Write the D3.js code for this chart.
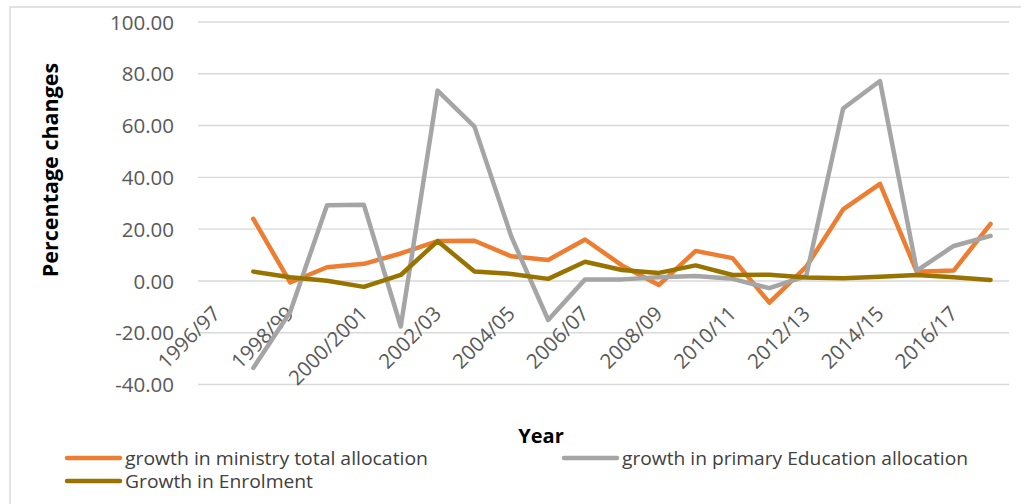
<!DOCTYPE html>
<html>
<head>
<meta charset="utf-8">
<script src="https://cdn.jsdelivr.net/npm/d3@7"></script>
<style>
  html, body { margin: 0; padding: 0; background: #fff; }
  svg { display: block; }
</style>
</head>
<body>
<svg id="chart" width="1021" height="504"></svg>
<script>
const categories = ["1996/97","1997/98","1998/99","1999/2000","2000/2001","2001/02","2002/03","2003/04","2004/05","2005/06","2006/07","2007/08","2008/09","2009/10","2010/11","2011/12","2012/13","2013/14","2014/15","2015/16","2016/17","2017/18"];
const ministryTotal = [null, 24.0, -0.6, 5.3, 6.6, 10.6, 15.4, 15.5, 9.5, 8.1, 16.0, 6.0, -1.6, 11.6, 8.8, -8.4, 5.5, 27.6, 37.5, 3.5, 4.0, 22.0];
const primaryEducation = [null, -33.6, -12.0, 29.2, 29.4, -17.6, 73.5, 59.6, 17.1, -15.1, 0.6, 0.6, 1.4, 1.9, 0.8, -2.8, 1.9, 66.6, 77.2, 4.0, 13.5, 17.4];
const enrolment = [null, 3.6, 1.4, 0.1, -2.3, 2.3, 15.4, 3.6, 2.7, 0.8, 7.4, 4.2, 3.1, 6.0, 2.3, 2.4, 1.3, 1.0, 1.6, 2.3, 1.4, 0.4];
const yTicks = [-40, -20, 0, 20, 40, 60, 80, 100];
const seriesNames = ["growth in ministry total allocation", "growth in primary Education allocation", "Growth in Enrolment"];
const seriesColors = ["#ED7D31", "#A5A5A5", "#997300"];

const svg = d3.select("#chart");
const x = d3.scaleBand().domain(categories).range([198, 1009]);
const y = d3.scaleLinear().domain([-40, 100]).range([384.5, 22]);
const cx = c => x(c) + x.bandwidth() / 2;

// outer chart border (left & top visible)
svg.append("path").attr("d", "M10,504 L10,7 L1021,7")
  .attr("fill", "none").attr("stroke", "#D9D9D9").attr("stroke-width", 1.5);

// gridlines
svg.append("g").selectAll("line").data(yTicks).join("line")
  .attr("x1", 198).attr("x2", 1009)
  .attr("y1", d => y(d)).attr("y2", d => y(d))
  .attr("stroke", "#D9D9D9").attr("stroke-width", 1.4);

// y axis labels
const yAxis = d3.axisLeft(y).tickValues(yTicks).tickSize(0).tickPadding(0).tickFormat(d => d.toFixed(2));
const gy = svg.append("g").attr("transform", "translate(174,0)").call(yAxis);
gy.select(".domain").remove();
gy.selectAll("text").attr("font-family", "Open Sans").attr("font-size", 20.5).attr("fill", "#595959")
  .attr("dy", "0.35em");

// x axis labels
const xAxis = d3.axisBottom(x).tickValues(categories.filter((c, i) => i % 2 === 0)).tickSize(0).tickPadding(0);
const gx = svg.append("g").attr("transform", `translate(0,${y(0)})`).call(xAxis);
gx.select(".domain").remove();
gx.selectAll("text").attr("font-family", "Open Sans").attr("font-size", 20.5).attr("fill", "#595959")
  .attr("text-anchor", "end").attr("dy", null).attr("y", null)
  .attr("transform", "translate(5,34) rotate(-45)");

// lines
const line = d3.line().defined(d => d.v != null).x(d => cx(d.c)).y(d => y(d.v));
[ministryTotal, primaryEducation, enrolment].forEach((vals, k) => {
  svg.append("path")
    .datum(categories.map((c, i) => ({ c, v: vals[i] })))
    .attr("d", line)
    .attr("fill", "none")
    .attr("stroke", seriesColors[k])
    .attr("stroke-width", 4.5)
    .attr("stroke-linejoin", "round")
    .attr("stroke-linecap", "round");
});

// axis titles
svg.append("text").attr("transform", "translate(49,170) rotate(-90)")
  .attr("text-anchor", "middle").attr("dominant-baseline", "central")
  .attr("font-family", "Open Sans").attr("font-weight", "bold").attr("font-size", 21.5)
  .attr("fill", "#000").text("Percentage changes");
svg.append("text").attr("x", 541).attr("y", 443)
  .attr("text-anchor", "middle")
  .attr("font-family", "Open Sans").attr("font-weight", "bold").attr("font-size", 20)
  .attr("fill", "#000").text("Year");

// legend
const legendItems = [
  { x: 65, y: 458, w: 303 },
  { x: 562, y: 458, w: 346 },
  { x: 65, y: 481, w: 188 }
];
legendItems.forEach((it, k) => {
  const g = svg.append("g").attr("transform", `translate(${it.x},${it.y})`);
  g.append("line").attr("x1", 2).attr("x2", 55).attr("y1", 0).attr("y2", 0)
    .attr("stroke", seriesColors[k]).attr("stroke-width", 4.5).attr("stroke-linecap", "round");
  g.append("text").attr("x", 60).attr("y", 0).attr("dominant-baseline", "central")
    .attr("font-family", "Open Sans").attr("font-size", 17.5).attr("fill", "#404040")
    .attr("textLength", it.w).attr("lengthAdjust", "spacingAndGlyphs")
    .text(seriesNames[k]);
});
</script>
</body>
</html>
